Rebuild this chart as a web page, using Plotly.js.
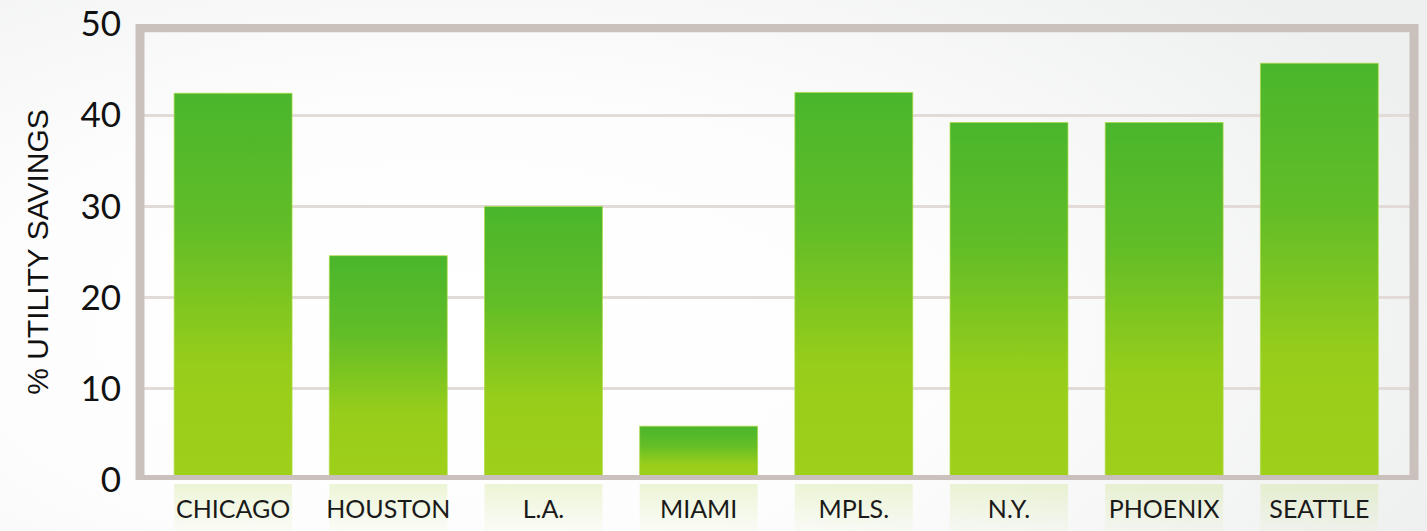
<!DOCTYPE html>
<html><head><meta charset="utf-8">
<script src="https://cdn.plot.ly/plotly-3.0.1.min.js"></script>
<style>
html,body{margin:0;padding:0;width:1427px;height:531px;overflow:hidden;}
body{background: radial-gradient(ellipse 75% 95% at 32% 62%, #ffffff 0%, #fdfdfd 45%, #eef0ef 100%);}
#chart{width:1427px;height:531px;}
</style></head><body>
<svg width="0" height="0" style="position:absolute"><defs>
<linearGradient id="barGrad" x1="0" y1="0" x2="0" y2="1">
<stop offset="0" stop-color="#4ab62c"/>
<stop offset="0.35" stop-color="#62bd27"/>
<stop offset="0.7" stop-color="#97cd1b"/>
<stop offset="1" stop-color="#9fd01a"/>
</linearGradient>
<linearGradient id="reflGrad" x1="0" y1="0" x2="0" y2="1">
<stop offset="0" stop-color="#bcdc66" stop-opacity="0.26"/>
<stop offset="1" stop-color="#bcdc66" stop-opacity="0.04"/>
</linearGradient>
</defs></svg>
<div id="chart"></div>
<script>
const cities = ["CHICAGO", "HOUSTON", "L.A.", "MIAMI", "MPLS.", "N.Y.", "PHOENIX", "SEATTLE"];
const savings = [42.4, 24.6, 30.0, 5.9, 42.5, 39.2, 39.2, 45.7];
const yTicks = [0, 10, 20, 30, 40, 50];
const yTitle = "% UTILITY SAVINGS";

const trace = {
  type: "bar",
  x: cities,
  y: savings,
  width: 0.76,
  marker: {color: "#7cc422", line: {color: "rgba(175,220,70,0.7)", width: 1}},
  hoverinfo: "x+y"
};

const layout = {
  width: 1427, height: 531,
  margin: {l: 140, r: 13, t: 24, b: 51.3},
  paper_bgcolor: "rgba(0,0,0,0)",
  plot_bgcolor: "rgba(0,0,0,0)",
  showlegend: false,
  font: {family: "Lato, 'Open Sans', sans-serif", color: "#1a1a1a"},
  xaxis: {
    range: [-0.6, 7.61],
    showgrid: false, zeroline: false, showline: false, ticks: "",
    tickfont: {size: 25, family: "Lato, sans-serif", color: "#1a1a1a"},
    ticklabelstandoff: 12
  },
  yaxis: {
    range: [0, 50],
    tickvals: yTicks,
    ticktext: yTicks.map(String),
    showgrid: true, gridcolor: "#e2dbd7", gridwidth: 3,
    zeroline: false, showline: false, ticks: "",
    tickfont: {size: 35, family: "Lato, sans-serif", color: "#111"},
    ticklabelstandoff: 18,
    ticklabeloverflow: "allow",
    title: {text: yTitle, font: {size: 30, family: "'Liberation Sans', Arial, sans-serif", color: "#111"}, standoff: 22},
    automargin: false
  },
  shapes: [{
    type: "rect", xref: "paper", yref: "y", x0: 0, x1: 1, y0: 0.05, y1: 49.6,
    line: {color: "#cbc1bc", width: 9}, fillcolor: "rgba(0,0,0,0)", layer: "above"
  }]
};

Plotly.newPlot("chart", [trace], layout, {displayModeBar: false}).then(function(gd){
  const paths = gd.querySelectorAll(".barlayer .point path");
  const svg = gd.querySelector("svg.main-svg");
  const gdRect = gd.getBoundingClientRect();
  const ns = "http://www.w3.org/2000/svg";
  const g = document.createElementNS(ns, "g");
  paths.forEach(function(p){
    p.style.fill = "url(#barGrad)";
    const r = p.getBoundingClientRect();
    const rect = document.createElementNS(ns, "rect");
    rect.setAttribute("x", r.left - gdRect.left);
    rect.setAttribute("width", r.width);
    rect.setAttribute("y", 484);
    rect.setAttribute("height", 47);
    rect.setAttribute("fill", "url(#reflGrad)");
    g.appendChild(rect);
  });
  const cart = svg.querySelector(".cartesianlayer");
  svg.insertBefore(g, cart);
});
</script>
</body></html>
